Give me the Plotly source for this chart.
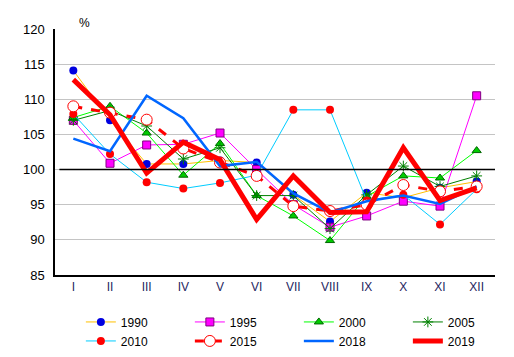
import plotly.graph_objects as go

months = ["I", "II", "III", "IV", "V", "VI", "VII", "VIII", "IX", "X", "XI", "XII"]

y1990 = [114.1, 107.0, 100.8, 100.8, 101.3, 101.0, 96.4, 92.6, 96.7, 96.0, 97.4, 98.3]
y1995 = [107.0, 100.9, 103.5, 103.6, 105.2, 100.0, 95.0, 91.8, 93.4, 95.5, 94.8, 110.5]
y2000 = [107.4, 109.0, 105.2, 99.2, 103.7, 96.3, 93.4, 89.9, 96.2, 99.1, 98.8, 102.7]
y2005 = [107.0, 108.4, 106.2, 101.5, 103.1, 96.3, 96.3, 91.6, 96.4, 100.5, 97.6, 99.1]
y2010 = [107.9, 102.2, 98.2, 97.3, 98.1, 99.2, 108.5, 108.5, 95.6, 96.4, 92.2, 97.2]
y2015 = [109.0, 108.1, 107.1, 103.0, 101.0, 99.1, 94.8, 94.1, 95.0, 97.8, 96.9, 97.6]
y2018 = [104.4, 102.6, 110.5, 107.3, 100.5, 101.1, 96.6, 93.9, 95.5, 96.3, 95.1, 97.6]
y2019 = [112.8, 107.8, 99.5, 103.9, 101.4, 92.9, 99.1, 93.9, 94.0, 103.1, 95.6, 97.4]

y_ticks = [85, 90, 95, 100, 105, 110, 115, 120]

fig = go.Figure()

def add(name, y, line, marker=None, mode="lines+markers"):
    fig.add_trace(go.Scatter(x=months, y=y, name=name, mode=mode, line=line,
                             marker=marker if marker else {}))

add("1990", y1990, dict(color="#FFC000", width=1),
    dict(symbol="circle", size=8, color="#0000E0", line=dict(width=0)))
add("1995", y1995, dict(color="#FF00FF", width=1),
    dict(symbol="square", size=8, color="#FF00FF", line=dict(width=1, color="#800080")))
add("2000", y2000, dict(color="#00FF00", width=1),
    dict(symbol="triangle-up", size=8, color="#00CC00", line=dict(width=1, color="#006600")))
add("2005", y2005, dict(color="#008000", width=1),
    dict(symbol="asterisk-open", size=9, color="#008000", line=dict(width=1, color="#008000")))
add("2010", y2010, dict(color="#00CCFF", width=1),
    dict(symbol="circle", size=8, color="#FF0000", line=dict(width=0)))
add("2015", y2015, dict(color="#FF0000", width=3, dash="dash"),
    dict(symbol="circle", size=11, color="white", line=dict(width=1, color="#FF0000")))
add("2018", y2018, dict(color="#0066FF", width=2.5), mode="lines")
add("2019", y2019, dict(color="#FF0000", width=5), mode="lines")

fig.add_shape(type="line", xref="paper", yref="y", x0=0.01, x1=1, y0=100, y1=100,
              line=dict(color="black", width=1.5), layer="above")

fig.add_annotation(text="%", xref="paper", yref="paper", x=0.05, y=1.06,
                   showarrow=False, font=dict(size=12, color="black"))

fig.update_layout(
    width=506, height=349,
    margin=dict(l=47, r=19, t=21, b=82, autoexpand=False),
    paper_bgcolor="white", plot_bgcolor="white",
    font=dict(family="Liberation Sans, Arial, sans-serif", size=12, color="black"),
    showlegend=True,
    legend=dict(orientation="h", xref="container", yref="container",
                x=0.144, xanchor="left", y=0.142, yanchor="top",
                entrywidth=64, entrywidthmode="pixels",
                font=dict(size=12), tracegroupgap=0, itemwidth=30,
                bgcolor="rgba(0,0,0,0)"),
)
fig.update_xaxes(range=[-0.5, 11.5], showline=True, linecolor="black", linewidth=1.5,
                 showgrid=False, ticks="", tickfont=dict(size=12, color="#1F1F5F"),
                 automargin=False)
fig.update_yaxes(range=[85, 120], tickvals=y_ticks, showline=True, linecolor="black",
                 linewidth=1.5, showgrid=True, gridcolor="#C4C4C4", gridwidth=1,
                 ticks="", zeroline=False, tickfont=dict(size=13), automargin=False,
                 ticklabelstandoff=6)

fig.write_html("out.html")
